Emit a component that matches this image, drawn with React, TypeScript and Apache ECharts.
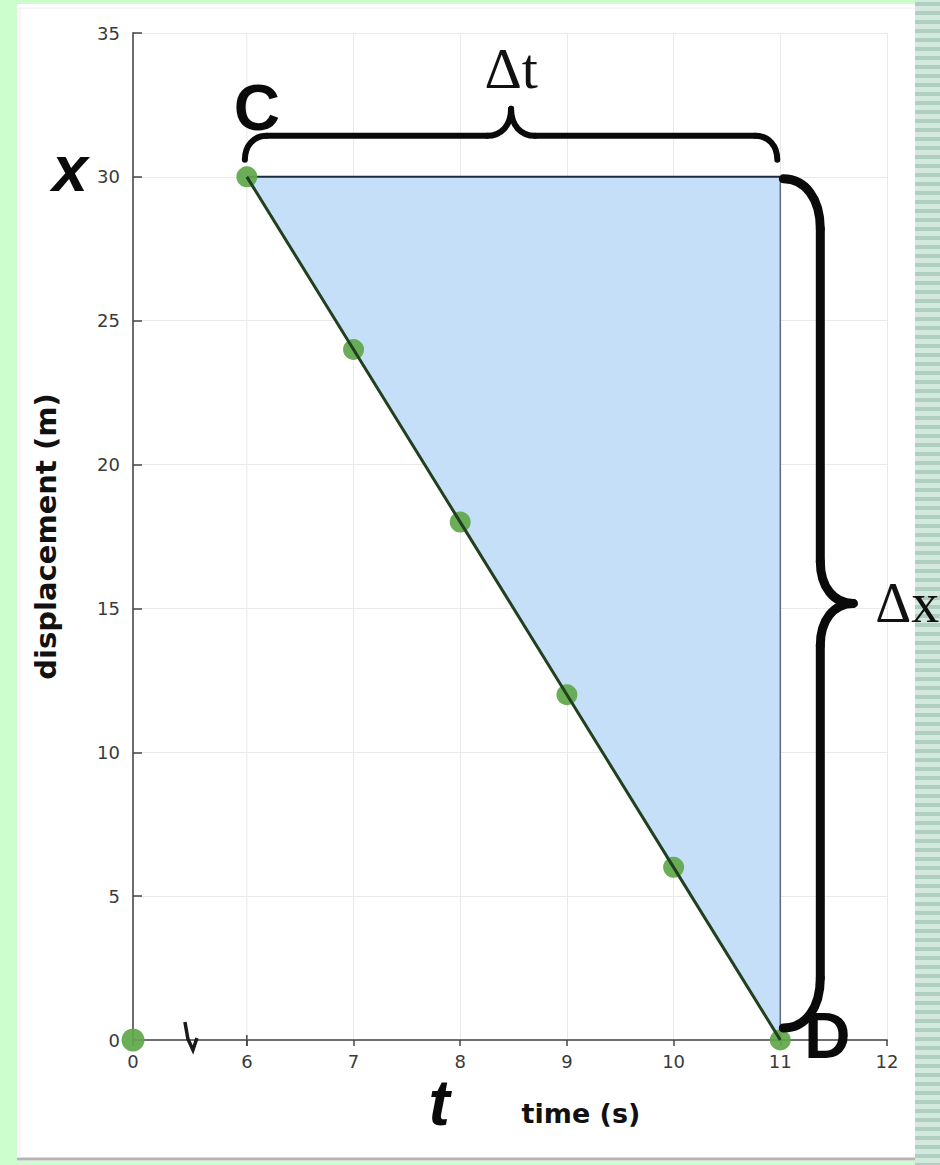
import React, { useEffect, useRef } from "react";
import * as echarts from "echarts";

// ---- data ----
const timeValues = [0, 6, 7, 8, 9, 10, 11];
const displacementValues = [0, 30, 24, 18, 12, 6, 0];
const triangleTimes = [6, 11, 11];
const triangleDisplacements = [30, 30, 0];
const pointC = [6, 30];
const pointD = [11, 0];
const xAxisMin = 0;
const xAxisMax = 12;
const xAxisStep = 1;
const yAxisMin = 0;
const yAxisMax = 35;
const yAxisStep = 5;
const timeBreak = { start: 0, end: 6 };

const W = 940;
const H = 1165;

function hBrace(xL: number, xR: number, yEnd: number, yBody: number, yPeak: number, rEnd: number, rPeak: number, lw: number) {
  const xm = (xL + xR) / 2;
  const st = { stroke: "#0a0a0a", lineWidth: lw, fill: "none", lineCap: "round" };
  const bz = (x1: number, y1: number, c1x: number, c1y: number, c2x: number, c2y: number, x2: number, y2: number) => ({
    type: "bezierCurve",
    z: 200,
    silent: true,
    shape: { x1, y1, cpx1: c1x, cpy1: c1y, cpx2: c2x, cpy2: c2y, x2, y2 },
    style: st,
  });
  const ln = (x1: number, y1: number, x2: number, y2: number) => ({
    type: "line",
    z: 200,
    silent: true,
    shape: { x1, y1, x2, y2 },
    style: st,
  });
  return [
    bz(xL, yEnd, xL, yEnd - (yEnd - yBody) * 0.6, xL + rEnd * 0.4, yBody, xL + rEnd, yBody),
    ln(xL + rEnd, yBody, xm - rPeak, yBody),
    bz(xm - rPeak, yBody, xm - rPeak * 0.4, yBody, xm, yBody - (yBody - yPeak) * 0.4, xm, yPeak),
    bz(xm, yPeak, xm, yBody - (yBody - yPeak) * 0.4, xm + rPeak * 0.4, yBody, xm + rPeak, yBody),
    ln(xm + rPeak, yBody, xR - rEnd, yBody),
    bz(xR - rEnd, yBody, xR - rEnd * 0.4, yBody, xR, yEnd - (yEnd - yBody) * 0.6, xR, yEnd),
  ];
}

function vBrace(yT: number, yB: number, xEnd: number, xBody: number, xPeak: number, rEnd: number, rPeak: number, lw: number) {
  const ym = (yT + yB) / 2;
  const st = { stroke: "#0a0a0a", lineWidth: lw, fill: "none", lineCap: "round" };
  const bz = (x1: number, y1: number, c1x: number, c1y: number, c2x: number, c2y: number, x2: number, y2: number) => ({
    type: "bezierCurve",
    z: 200,
    silent: true,
    shape: { x1, y1, cpx1: c1x, cpy1: c1y, cpx2: c2x, cpy2: c2y, x2, y2 },
    style: st,
  });
  const ln = (x1: number, y1: number, x2: number, y2: number) => ({
    type: "line",
    z: 200,
    silent: true,
    shape: { x1, y1, x2, y2 },
    style: st,
  });
  return [
    bz(xEnd, yT, xEnd + (xBody - xEnd) * 0.6, yT, xBody, yT + rEnd * 0.4, xBody, yT + rEnd),
    ln(xBody, yT + rEnd, xBody, ym - rPeak),
    bz(xBody, ym - rPeak, xBody, ym - rPeak * 0.4, xBody + (xPeak - xBody) * 0.4, ym, xPeak, ym),
    bz(xPeak, ym, xBody + (xPeak - xBody) * 0.4, ym, xBody, ym + rPeak * 0.4, xBody, ym + rPeak),
    ln(xBody, ym + rPeak, xBody, yB - rEnd),
    bz(xBody, yB - rEnd, xBody, yB - rEnd * 0.4, xEnd + (xBody - xEnd) * 0.6, yB, xEnd, yB),
  ];
}

export default function App() {
  const ref = useRef<HTMLDivElement>(null);

  useEffect(() => {
    document.body.style.margin = "0";
    const chart = echarts.init(ref.current!, null, { renderer: "svg" });

    const points = timeValues.map((t, i) => [t, displacementValues[i]]);
    const fitPoints = points.filter((p) => p[0] >= pointC[0]);

    const labelFont = { fontFamily: "DejaVu Sans", fontSize: 18, color: "#3a3a3a" };
    const axisColor = "#6e6e6e";
    const gridColor = "#e9e9e9";

    const option: any = {
      animation: false,
      backgroundColor: "#ffffff",
      grid: { left: 133, right: W - 887, top: 33, bottom: H - 1040, containLabel: false },
      xAxis: {
        type: "value",
        min: xAxisMin,
        max: xAxisMax,
        interval: xAxisStep,
        breaks: [{ start: timeBreak.start, end: timeBreak.end, gap: "15.1%" }],
        breakArea: { show: false },
        breakLabelLayout: { moveOverlap: false },
        name: "time (s)",
        nameLocation: "middle",
        nameGap: 60,
        nameTextStyle: {
          fontFamily: "DejaVu Sans",
          fontWeight: "bold",
          fontSize: 27,
          color: "#111",
          padding: [0, 0, 0, 142],
        },
        axisLine: { show: true, onZero: false, lineStyle: { color: axisColor, width: 2 } },
        axisTick: { show: true, inside: false, length: 6, lineStyle: { color: "#444", width: 1.5 } },
        axisLabel: {
          ...labelFont,
          margin: 12,
          formatter: (v: number) => (Number.isInteger(v) ? String(v) : ""),
        },
        splitLine: { show: true, lineStyle: { color: gridColor, width: 1 } },
      },
      yAxis: {
        type: "value",
        min: yAxisMin,
        max: yAxisMax,
        interval: yAxisStep,
        name: "displacement (m)",
        nameLocation: "middle",
        nameGap: 73,
        nameTextStyle: {
          fontFamily: "DejaVu Sans",
          fontWeight: "bold",
          fontSize: 29,
          color: "#111",
        },
        axisLine: { show: true, onZero: false, lineStyle: { color: axisColor, width: 2 } },
        axisTick: { show: true, inside: true, length: 9, lineStyle: { color: "#444", width: 1.5 } },
        axisLabel: { ...labelFont, margin: 13 },
        splitLine: { show: true, lineStyle: { color: gridColor, width: 1 } },
      },
      series: [
        {
          type: "custom",
          silent: true,
          z: 1,
          data: [[triangleTimes[0], triangleDisplacements[0]]],
          renderItem: (_params: any, api: any) => {
            const pts = triangleTimes.map((t, i) => api.coord([t, triangleDisplacements[i]]));
            return {
              type: "polygon",
              shape: { points: pts },
              style: { fill: "#c6dff8", stroke: "none" },
            };
          },
        },
        {
          type: "line",
          silent: true,
          z: 3,
          symbol: "none",
          data: [
            [triangleTimes[0], triangleDisplacements[0]],
            [triangleTimes[1], triangleDisplacements[1]],
          ],
          lineStyle: { color: "#1b2a3a", width: 2 },
        },
        {
          type: "line",
          silent: true,
          z: 3,
          symbol: "none",
          data: [
            [triangleTimes[1], triangleDisplacements[1]],
            [triangleTimes[2], triangleDisplacements[2]],
          ],
          lineStyle: { color: "#5a6a80", width: 1.5 },
        },
        {
          type: "scatter",
          silent: true,
          z: 160,
          symbolSize: (v: number[]) => (v[0] === xAxisMin ? 23 : 21),
          data: points,
          itemStyle: { color: "#5fa64a", opacity: 0.92 },
        },
        {
          type: "line",
          silent: true,
          z: 161,
          symbol: "none",
          data: fitPoints,
          lineStyle: { color: "#21401f", width: 3 },
        },
      ],
    };

    chart.setOption(option);

    const px = (t: number, x: number) => chart.convertToPixel({ gridIndex: 0 }, [t, x]) as number[];
    const C = px(pointC[0], pointC[1]);
    const D = px(pointD[0], pointD[1]);
    const topRight = px(triangleTimes[1], triangleDisplacements[1]);
    const origin = px(xAxisMin, yAxisMin);
    const top6 = px(timeBreak.end, yAxisMax);
    const b2 = px(timeBreak.end, yAxisMin);
    const x0 = origin[0];
    const x6 = b2[0];
    const bx = (x0 + x6) / 2;
    const ay = origin[1];
    const t8 = px(8, 0);

    const graphics: any[] = [];

    // screenshot frame: green margins, stripes on right
    graphics.push(
      { type: "rect", z: 20, silent: true, shape: { x: 0, y: 0, width: 17, height: H }, style: { fill: "#ccfdcc" } },
      { type: "rect", z: 20, silent: true, shape: { x: 0, y: 0, width: W, height: 4 }, style: { fill: "#ccfdcc" } },
      { type: "rect", z: 20, silent: true, shape: { x: 0, y: 1161, width: W, height: H - 1161 }, style: { fill: "#ccfdcc" } },
      { type: "line", z: 20, silent: true, shape: { x1: 17, y1: 1159, x2: 915, y2: 1159 }, style: { stroke: "#b4b4b4", lineWidth: 3 } },
      { type: "line", z: 20, silent: true, shape: { x1: 20, y1: 8, x2: 915, y2: 8 }, style: { stroke: "#eeeeee", lineWidth: 1 } },
      { type: "line", z: 20, silent: true, shape: { x1: 20, y1: 8, x2: 20, y2: 1158 }, style: { stroke: "#eeeeee", lineWidth: 1 } },
      { type: "rect", z: 20, silent: true, shape: { x: 915, y: 0, width: W - 915, height: H }, style: { fill: "#d3e9dd" } }
    );
    for (let y = 2; y < H; y += 9) {
      graphics.push({
        type: "rect",
        z: 21,
        silent: true,
        shape: { x: 915, y, width: W - 915, height: 4 },
        style: { fill: "#aecfc1" },
      });
    }

    // grid line at the break end, axis line across the break and tick at the break end
    graphics.push(
      { type: "line", z: 1, silent: true, shape: { x1: x6, y1: top6[1], x2: x6, y2: ay }, style: { stroke: gridColor, lineWidth: 1 } },
      { type: "line", z: 150, silent: true, shape: { x1: x0, y1: ay, x2: x6, y2: ay }, style: { stroke: axisColor, lineWidth: 2 } },
      { type: "line", z: 150, silent: true, shape: { x1: x6, y1: ay - 5, x2: x6, y2: ay + 6 }, style: { stroke: "#444", lineWidth: 1.5 } }
    );

    // axis break symbol
    graphics.push({
      type: "polyline",
      z: 151,
      silent: true,
      shape: { points: [[bx - 5, ay - 18], [bx - 2, ay - 1], [bx + 3, ay + 10], [bx + 7, ay - 2]] },
      style: { stroke: "#1a1a1a", lineWidth: 3.5, fill: "none" },
    });

    // braces
    graphics.push(...hBrace(C[0] - 2, topRight[0] - 3, C[1] - 17, C[1] - 41, C[1] - 68, 22, 24, 6));
    graphics.push(...vBrace(topRight[1] + 2, D[1] - 12, D[0] + 3, D[0] + 40, D[0] + 73, 50, 42, 9));

    const txt = (text: string, x: number, y: number, font: string, align = "center", fill = "#0a0a0a") => ({
      type: "text",
      z: 210,
      silent: true,
      x,
      y,
      style: { text, font, fill, align, verticalAlign: "middle", textAlign: align, textVerticalAlign: "middle" },
    });

    const topBraceMid = (C[0] - 2 + topRight[0] - 3) / 2;
    const rightBraceMid = (topRight[1] + 2 + D[1] - 12) / 2;

    graphics.push(
      txt("C", C[0] + 10, C[1] - 69, "bold 64px 'Liberation Sans', Arial, sans-serif"),
      txt("D", D[0] + 47, D[1] - 4, "bold 64px 'Liberation Sans', Arial, sans-serif"),
      txt("x", origin[0] - 63, C[1] - 8, "italic bold 64px 'Liberation Sans', Arial, sans-serif"),
      txt("t", t8[0] - 21, ay + 63, "italic bold 64px 'Liberation Sans', Arial, sans-serif"),
      txt("Δt", topBraceMid, C[1] - 108, "58px 'Liberation Serif', 'Times New Roman', serif", "center", "#111"),
      txt("Δx", D[0] + 95, rightBraceMid, "56px 'Liberation Serif', 'Times New Roman', serif", "left", "#111")
    );

    chart.setOption({ graphic: { elements: graphics } });

    return () => chart.dispose();
  }, []);

  return <div ref={ref} style={{ position: "absolute", left: 0, top: 0, width: W, height: H }} />;
}
